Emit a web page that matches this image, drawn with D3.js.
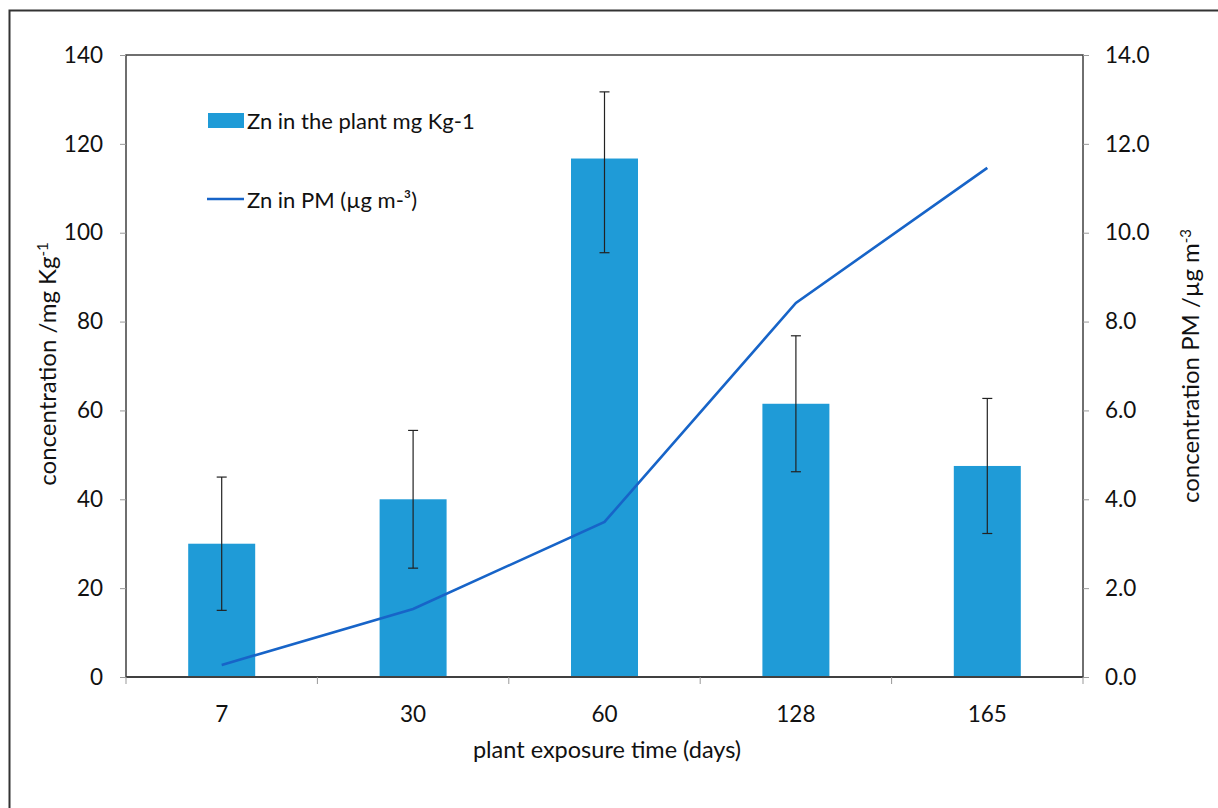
<!DOCTYPE html>
<html>
<head>
<meta charset="utf-8">
<script src="https://cdn.jsdelivr.net/npm/d3@7"></script>
<style>
  body { margin: 0; background: #fff; }
  svg { display: block; font-family: Lato, "Open Sans", sans-serif; }
</style>
</head>
<body>
<svg id="canvas" width="1218" height="808"></svg>
<script>
// data
let days = ["7", "30", "60", "128", "165"]
let plantZn = [30, 40, 116.7, 61.5, 47.5]
let errUp = [15, 15.5, 15, 15.3, 15.2]
let errDown = [15, 15.5, 21.2, 15.3, 15.2]
let pmZn = [0.27, 1.53, 3.49, 8.42, 11.46]
let leftTicks = [0, 20, 40, 60, 80, 100, 120, 140]
let rightTicks = [0, 2, 4, 6, 8, 10, 12, 14]

let svg = d3.select("#canvas")

let plotLeft = 126, plotRight = 1083, plotTop = 55, plotBottom = 677

// outer frame of the figure
svg.append("rect")
    .attr("x", 9.5).attr("y", 10.5)
    .attr("width", 1300).attr("height", 900)
    .attr("fill", "none").attr("stroke", "#333").attr("stroke-width", 2)

let x = d3.scaleBand().domain(days).range([plotLeft, plotRight]).padding(0)
let yL = d3.scaleLinear().domain([0, 140]).range([plotBottom, plotTop])
let yR = d3.scaleLinear().domain([0, 14]).range([plotBottom, plotTop])

// plot box
svg.append("rect")
    .attr("x", plotLeft).attr("y", plotTop)
    .attr("width", plotRight - plotLeft).attr("height", plotBottom - plotTop)
    .attr("fill", "none").attr("stroke", "#404040").attr("stroke-width", 1.5)

// bars
let barW = x.bandwidth() * 0.35
svg.selectAll(".bar")
    .data(plantZn)
    .enter()
    .append("rect")
    .attr("class", "bar")
    .attr("x", (d, i) => x(days[i]) + x.bandwidth() / 2 - barW / 2)
    .attr("y", d => yL(d))
    .attr("width", barW)
    .attr("height", d => yL(0) - yL(d))
    .attr("fill", "#1f9bd7")

// error bars
let err = svg.append("g").attr("stroke", "#222").attr("stroke-width", 1.2)
plantZn.forEach((v, i) => {
    let cx = x(days[i]) + x.bandwidth() / 2
    let hi = yL(v + errUp[i]), lo = yL(v - errDown[i])
    err.append("line").attr("x1", cx).attr("x2", cx).attr("y1", hi).attr("y2", lo)
    err.append("line").attr("x1", cx - 5).attr("x2", cx + 5).attr("y1", hi).attr("y2", hi)
    err.append("line").attr("x1", cx - 5).attr("x2", cx + 5).attr("y1", lo).attr("y2", lo)
})

// line series on the right axis
let line = d3.line()
    .x((d, i) => x(days[i]) + x.bandwidth() / 2)
    .y(d => yR(d))
svg.append("path")
    .datum(pmZn)
    .attr("d", line)
    .attr("fill", "none")
    .attr("stroke", "#1764c8")
    .attr("stroke-width", 2.6)

// left axis
let axL = svg.append("g")
    .attr("transform", `translate(${plotLeft},0)`)
    .call(d3.axisLeft(yL).tickValues(leftTicks).tickSize(6).tickPadding(17))
axL.select(".domain").remove()
axL.selectAll("line").attr("stroke", "#999")
axL.selectAll("text").attr("font-size", 22.5).attr("fill", "#111")
    .attr("font-family", "Lato, sans-serif")

// right axis
let axR = svg.append("g")
    .attr("transform", `translate(${plotRight},0)`)
    .call(d3.axisRight(yR).tickValues(rightTicks).tickSize(6).tickPadding(16)
        .tickFormat(d3.format(".1f")))
axR.select(".domain").remove()
axR.selectAll("line").attr("stroke", "#999")
axR.selectAll("text").attr("font-size", 22.5).attr("fill", "#111")
    .attr("font-family", "Lato, sans-serif")

// x axis line and category boundary ticks
svg.append("line")
    .attr("x1", plotLeft).attr("x2", plotRight)
    .attr("y1", plotBottom).attr("y2", plotBottom)
    .attr("stroke", "#404040").attr("stroke-width", 2)
let bounds = days.map(d => x(d)).concat([x.range()[1]])
svg.selectAll(".xtick")
    .data(bounds)
    .enter()
    .append("line")
    .attr("x1", d => d).attr("x2", d => d)
    .attr("y1", plotBottom).attr("y2", plotBottom + 7)
    .attr("stroke", "#999")

svg.selectAll(".xlab")
    .data(days)
    .enter()
    .append("text")
    .attr("x", d => x(d) + x.bandwidth() / 2)
    .attr("y", 722)
    .attr("text-anchor", "middle")
    .attr("font-size", 22.5)
    .attr("fill", "#111")
    .text(d => d)

svg.append("text")
    .attr("x", 607).attr("y", 758)
    .attr("text-anchor", "middle")
    .attr("font-size", 23.5)
    .attr("fill", "#111")
    .text("plant exposure time (days)")

// axis titles
let tL = svg.append("text")
    .attr("transform", "translate(56,364) rotate(-90)")
    .attr("text-anchor", "middle")
    .attr("font-size", 24)
    .attr("fill", "#111")
tL.append("tspan").text("concentration /mg Kg")
tL.append("tspan").attr("dy", -8).attr("font-size", 15).text("-1")

let tR = svg.append("text")
    .attr("transform", "translate(1199,366) rotate(-90)")
    .attr("text-anchor", "middle")
    .attr("font-size", 24)
    .attr("fill", "#111")
tR.append("tspan").text("concentration PM /µg m")
tR.append("tspan").attr("dy", -8).attr("font-size", 15).text("-3")

// legend
let lg = svg.append("g").attr("font-size", 22).attr("fill", "#111")
lg.append("rect")
    .attr("x", 208).attr("y", 113).attr("width", 36).attr("height", 15)
    .attr("fill", "#1f9bd7")
lg.append("text").attr("x", 247).attr("y", 129).text("Zn in the plant mg Kg-1")
lg.append("line")
    .attr("x1", 207).attr("x2", 244).attr("y1", 199).attr("y2", 199)
    .attr("stroke", "#1764c8").attr("stroke-width", 2.6)
lg.append("text").attr("x", 247).attr("y", 208).text("Zn in PM (µg m-³)")
</script>
</body>
</html>
